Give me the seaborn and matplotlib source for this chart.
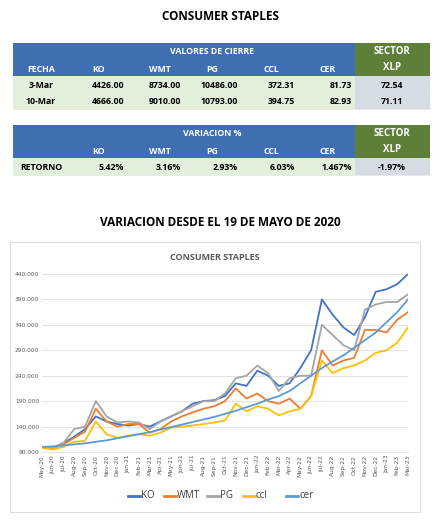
import matplotlib
matplotlib.use("Agg")
import matplotlib.pyplot as plt
import seaborn as sns
import pandas as pd
from matplotlib.patches import Rectangle

months = ["May-20","Jun-20","Jul-20","Aug-20","Sep-20","Oct-20","Nov-20","Dec-20","Jan-21","Feb-21","Mar-21","Apr-21",
          "May-21","Jun-21","Jul-21","Aug-21","Sep-21","Oct-21","Nov-21","Dec-21","Jan-22","Feb-22","Mar-22","Apr-22",
          "May-22","Jun-22","Jul-22","Aug-22","Sep-22","Oct-22","Nov-22","Dec-22","Jan-23","Feb-23","Mar-23"]
ko  = [100,98,108,120,135,160,150,145,142,145,140,150,160,170,185,190,192,200,225,220,250,240,220,225,255,290,390,360,335,320,355,405,410,420,440]
wmt = [100,97,105,118,130,175,150,140,145,145,128,135,150,160,168,175,180,190,215,195,205,190,185,195,175,200,290,260,270,275,330,330,325,350,365]
pg  = [100,98,108,135,140,190,160,148,150,148,135,150,160,170,180,190,190,205,235,240,260,245,210,235,240,240,340,320,300,290,370,380,385,385,400]
ccl = [98,95,100,110,112,150,125,118,122,125,122,128,138,140,142,145,148,152,185,170,180,175,162,170,175,200,270,245,255,260,270,285,290,305,335]
cer = [100,101,103,105,107,110,113,117,121,125,129,134,139,144,149,154,159,165,171,178,185,193,200,210,225,240,255,268,280,295,310,325,345,365,390]
series_names = ["KO","WMT","PG","ccl","cer"]
series_colors = ["#4472C4","#ED7D31","#A5A5A5","#FFC000","#5B9BD5"]

tbl_cols = ["FECHA","KO","WMT","PG","CCL","CER"]
dates = ["3-Mar","10-Mar"]
close_vals = [["4426.00","8734.00","10486.00","372.31","81.73"],
              ["4666.00","9010.00","10793.00","394.75","82.93"]]
xlp_vals = ["72.54","71.11"]
ret_vals = ["5.42%","3.16%","2.93%","6.03%","1.467%"]
xlp_ret = "-1.97%"

W, H = 440, 522
fig = plt.figure(figsize=(W/100, H/100), dpi=100)
bg = fig.add_axes([0,0,1,1])
bg.set_xlim(0,W); bg.set_ylim(H,0); bg.axis("off")
FF = ["Open Sans","DejaVu Sans"]
BLUE, GREEN, LG, GREY = "#3F6FB0", "#5E7F3A", "#E2EFDA", "#D6DCE4"

bg.text(220,16,"CONSUMER STAPLES",ha="center",va="center",fontsize=8.5,fontweight="bold",family=FF)

xs = [13,70,127,184,241,298,355,430]
def rect(x0,y0,x1,y1,c):
    bg.add_patch(Rectangle((x0,y0),x1-x0,y1-y0,color=c,lw=0))
def txt(x,y,s,c="black",ha="center",fs=6.3):
    bg.text(x,y,s,ha=ha,va="center",fontsize=fs,fontweight="bold",color=c,family=FF)

rect(13,43,355,76,BLUE); rect(355,43,430,76,GREEN)
rect(13,76,355,109,LG); rect(355,76,430,109,GREY)
txt(212,52,"VALORES DE CIERRE","white")
txt(392,52,"SECTOR","white",fs=7); txt(392,68,"XLP","white",fs=7)
for i,c in enumerate(tbl_cols):
    if i==0: txt(41,69,c,"white")
    else: txt(xs[i]+22,69,c,"white",ha="left")
for r,(d,vals) in enumerate(zip(dates,close_vals)):
    y = 85+r*16
    txt(41,y,d)
    for i,v in enumerate(vals):
        txt(xs[i+2]-3,y,v,ha="right")
    txt(392,y,xlp_vals[r])
rect(13,125,355,158,BLUE); rect(355,125,430,158,GREEN)
rect(13,158,355,175,LG); rect(355,158,430,175,GREY)
txt(212,134,"VARIACION %","white")
txt(392,134,"SECTOR","white",fs=7); txt(392,150,"XLP","white",fs=7)
for i,c in enumerate(tbl_cols[1:]):
    txt(xs[i+1]+22,151,c,"white",ha="left")
txt(41,167,"RETORNO")
for i,v in enumerate(ret_vals):
    txt(xs[i+2]-3,167,v,ha="right")
txt(392,167,xlp_ret)
for y in [43,76,92,109,125,158,175]:
    bg.plot([13,430],[y,y],color="#D9D9D9",lw=0.4,zorder=0)

bg.text(220,222,"VARIACION DESDE EL 19 DE MAYO DE 2020",ha="center",va="center",fontsize=8.5,fontweight="bold",family=FF)
bg.add_patch(Rectangle((10,242),410,270,fill=False,ec="#D9D9D9",lw=0.6))
bg.text(215,257,"CONSUMER STAPLES",ha="center",va="center",fontsize=6.5,fontweight="bold",color="#595959",family=FF)

df = pd.DataFrame({"month":list(range(len(months)))*5,
                   "value":ko+wmt+pg+ccl+cer,
                   "serie":sum([[n]*len(months) for n in series_names],[])})
ax = fig.add_axes([42/W, 1-452/H, (408-42)/W, (452-274)/H])
sns.lineplot(data=df,x="month",y="value",hue="serie",palette=series_colors,ax=ax,lw=1.3,legend=False)
ax.set_ylim(90,440)
ax.set_xlim(0,len(months)-1)
ax.set_yticks(range(90,441,50))
ax.set_yticklabels([f"{v}.000" for v in range(90,441,50)],fontsize=4.2,color="#595959")
ax.set_xticks(range(len(months)))
ax.set_xticklabels(months,rotation=90,fontsize=4.2,color="#595959")
ax.tick_params(length=0,pad=2)
ax.set_xlabel(""); ax.set_ylabel("")
ax.grid(axis="y",color="#D9D9D9",lw=0.5)
for s in ["top","right","left"]: ax.spines[s].set_visible(False)
ax.spines["bottom"].set_color("#D9D9D9"); ax.spines["bottom"].set_linewidth(0.5)
ax.set_axisbelow(True)

lx = 128
for n,c in zip(series_names,series_colors):
    bg.plot([lx,lx+12],[496,496],color=c,lw=2)
    bg.text(lx+13,496,n,va="center",fontsize=7,color="#404040",family=FF)
    lx += 13 + 9 + 7*len(n)
fig.savefig("out.png",dpi=100)
